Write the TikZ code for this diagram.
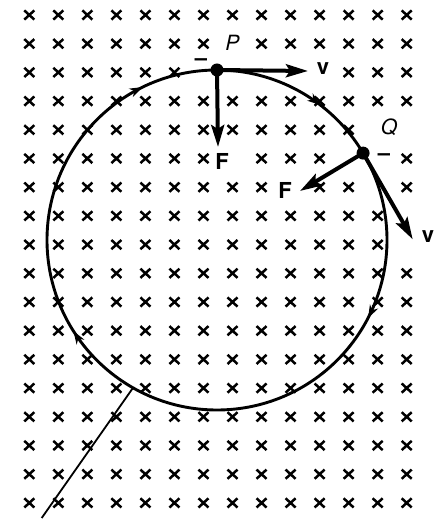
\documentclass[tikz,border=0pt]{standalone}
\usepackage{fontspec}
\setmainfont{TeX Gyre Heros}
\usetikzlibrary{arrows.meta,decorations.markings,calc}
\def\markskip#1#2{\expandafter\def\csname sk-#1-#2\endcsname{}}
\markskip{7}{1}
\markskip{6}{2}\markskip{7}{2}\markskip{8}{2}\markskip{9}{2}\markskip{10}{2}
\markskip{12}{4}\markskip{13}{4}
\markskip{7}{5}\markskip{11}{5}\markskip{12}{5}
\markskip{9}{6}\markskip{12}{6}
\markskip{13}{7}\markskip{13}{8}
\begin{document}
\begin{tikzpicture}[x=1pt,y=1pt,
  xm/.style={line width=2.5pt},
  orbit/.style={line width=2.9pt,
    decoration={markings,
      mark=at position 0.104 with {\arrow{Stealth[length=13pt,width=9pt,inset=4pt]}},
      mark=at position 0.326 with {\arrow{Stealth[length=13pt,width=9pt,inset=4pt]}},
      mark=at position 0.660 with {\arrow{Stealth[length=13pt,width=9pt,inset=4pt]}},
      mark=at position 0.928 with {\arrow{Stealth[length=13pt,width=9pt,inset=4pt]}}},
    postaction={decorate}},
  entry/.style={line width=1.8pt},
  vec/.style={line width=4pt,-{Stealth[length=22pt,width=13pt,inset=4pt]}},
  charge/.style={circle,fill=black,inner sep=0pt,minimum size=13pt},
  ptlab/.style={font=\fontsize{21}{21}\selectfont\itshape,inner sep=0pt},
  lab/.style={font=\fontsize{22}{22}\selectfont\bfseries,inner sep=0pt},
  sign/.style={font=\fontsize{22}{22}\selectfont\bfseries,inner sep=0pt}]
\useasboundingbox (0,0) rectangle (435,520);
\fill[white] (0,0) rectangle (435,520);
% field crosses (into page)
\foreach \i in {0,...,13}{
  \foreach \j in {0,...,17}{
    \ifcsname sk-\i-\j\endcsname\else
      \pgfmathsetmacro{\xx}{29.3+29.03*\i}
      \pgfmathsetmacro{\yy}{505-28.7*\j}
      \draw[xm] (\xx-5,\yy-4.6) -- (\xx+5,\yy+4.6)
                (\xx-5,\yy+4.6) -- (\xx+5,\yy-4.6);
    \fi
  }
}
\coordinate (C) at (217,280);
\coordinate (E) at ($(C)+(240.4:170)$);
\coordinate (S) at (41.7,2);
% orbit, clockwise from top
\draw[orbit] ($(C)+(90:170)$) arc[start angle=90, end angle=-270, radius=170];
\draw[entry] (S) -- (E);
% charges
\node[charge] (P) at ($(C)+(90:170)$) {};
\node[charge] (Q) at ($(C)+(30.75:170)$) {};
\coordinate (vPt) at (308,449);
\coordinate (FPt) at (218,373);
\coordinate (FQt) at (300,329);
\coordinate (vQt) at (412.7,280.7);
\draw[vec] (P.center) -- (vPt);
\draw[vec] (P.center) -- (FPt);
\draw[vec] (Q.center) -- (FQt);
\draw[vec] (Q.center) -- (vQt);
% labels
\node[ptlab] (Plab) at (232.5,477) {P};
\node[ptlab] (Qlab) at (389,393) {Q};
\node[sign] (Psign) at (201,458) {–};
\node[sign] (Qsign) at (384,363) {–};
\node[lab] (vPlab) at (323,451) {v};
\node[lab] (FPlab) at (222,359) {F};
\node[lab] (FQlab) at (285,330) {F};
\node[lab] (vQlab) at (428,283) {v};
\end{tikzpicture}
\end{document}
